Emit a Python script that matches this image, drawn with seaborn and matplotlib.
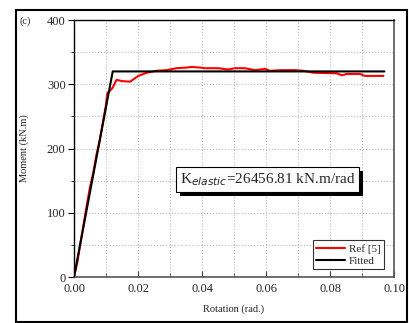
import matplotlib
matplotlib.use("Agg")
import matplotlib.pyplot as plt
import seaborn as sns
import pandas as pd
from matplotlib.patches import Rectangle
from matplotlib.ticker import MultipleLocator

# Ref [5] curve (rotation, moment)
ref_rot = [0.0, 0.001, 0.002, 0.003, 0.004, 0.005, 0.006, 0.007, 0.008, 0.009,
           0.0100, 0.0104, 0.0120, 0.0133, 0.0149, 0.0175, 0.0201, 0.0227, 0.0258,
           0.0290, 0.0320, 0.0352, 0.0368, 0.0394, 0.0410, 0.0451, 0.0482, 0.0503,
           0.0534, 0.0566, 0.0597, 0.0612, 0.0649, 0.0690, 0.0717, 0.0748, 0.0821,
           0.0837, 0.0852, 0.0894, 0.0909, 0.0967]
ref_mom = [0, 22, 52, 82, 112, 140, 162, 190, 212, 240,
           268, 286, 294, 307, 305, 304, 313, 318, 321,
           322, 325, 326, 327, 326, 325, 325, 323, 325,
           325, 322, 324, 321, 322, 322, 321, 318, 317,
           314, 316, 316, 313, 313]

# Fitted bilinear curve
fit_rot = [0.0, 0.0121, 0.0970]
fit_mom = [0, 320, 320]

ref_df = pd.DataFrame({"Rotation": ref_rot, "Moment": ref_mom})
fit_df = pd.DataFrame({"Rotation": fit_rot, "Moment": fit_mom})

sns.set_style("white")
plt.rcParams["font.family"] = ["Liberation Serif", "DejaVu Serif"]

fig = plt.figure(figsize=(4.10, 3.23), dpi=100)
ax = fig.add_axes([0.1805, 0.1424, 0.7805, 0.7956])

sns.lineplot(data=ref_df, x="Rotation", y="Moment", color="red", lw=1.5,
             label="Ref [5]", ax=ax, sort=False, zorder=3)
sns.lineplot(data=fit_df, x="Rotation", y="Moment", color="black", lw=1.5,
             label="Fitted", ax=ax, sort=False, zorder=4)

ax.set_xlim(0, 0.10)
ax.set_ylim(0, 400)
ax.xaxis.set_major_locator(MultipleLocator(0.02))
ax.xaxis.set_minor_locator(MultipleLocator(0.01))
ax.yaxis.set_major_locator(MultipleLocator(100))
ax.yaxis.set_minor_locator(MultipleLocator(50))
ax.xaxis.set_major_formatter(matplotlib.ticker.FormatStrFormatter("%.2f"))
ax.grid(which="both", linestyle=":", color="#bbbbbb", lw=0.8)
ax.tick_params(axis="x", which="both", direction="in", labelsize=9, pad=4,
               bottom=True, color="#444444")
ax.tick_params(axis="x", which="major", length=4)
ax.tick_params(axis="x", which="minor", length=3)
ax.tick_params(axis="y", which="both", direction="out", labelsize=9, pad=2,
               left=True, color="black")
ax.tick_params(axis="y", which="major", length=4)
ax.tick_params(axis="y", which="minor", length=2.5)

for side in ["top", "left"]:
    ax.spines[side].set_color("black")
    ax.spines[side].set_linewidth(1.0)
for side in ["bottom", "right"]:
    ax.spines[side].set_color("#555555")
    ax.spines[side].set_linewidth(1.2)

ax.set_xlabel("Rotation (rad.)", fontsize=7.5, labelpad=7)
ax.set_ylabel("Moment (kN.m)", fontsize=7.5, labelpad=13)

leg = ax.legend(loc="lower right", fontsize=8, frameon=True, fancybox=False,
                borderpad=0.3, labelspacing=0.2, handlelength=2.6,
                handletextpad=0.3, bbox_to_anchor=(0.985, 0.01))
leg.get_frame().set_edgecolor("black")
leg.get_frame().set_linewidth(0.8)

k_txt = ax.text(0.33, 0.38, r"K$_{elastic}$=26456.81 kN.m/rad",
                transform=ax.transAxes, fontsize=11, ha="left", va="center",
                zorder=6,
                bbox=dict(boxstyle="square,pad=0.25", fc="white", ec="black", lw=0.8))

# drop shadow behind the text box
fig.canvas.draw()
bb = k_txt.get_bbox_patch().get_window_extent()
ax.add_patch(Rectangle((bb.x0 + 4, bb.y0 - 4), bb.width, bb.height,
                       transform=None, fc="black", ec="none", zorder=5))

fig.text(0.047, 0.935, "(c)", fontsize=7.5, ha="left", va="center")
fig.patches.append(Rectangle((0.040, 0.004), 0.952, 0.966, transform=fig.transFigure,
                             fill=False, ec="black", lw=1.5))

fig.savefig("out.png", dpi=100)
